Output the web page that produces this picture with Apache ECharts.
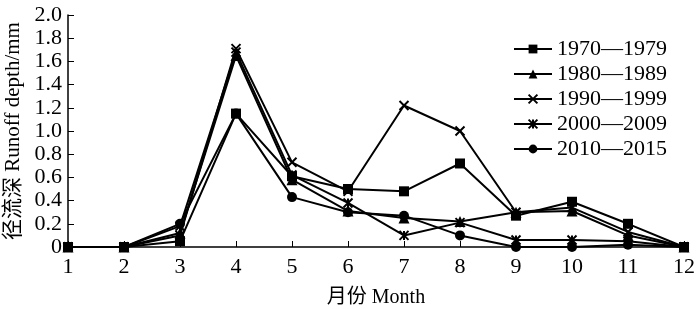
<!DOCTYPE html>
<html>
<head>
<meta charset="utf-8">
<script src="https://cdn.jsdelivr.net/npm/echarts@6/dist/echarts.min.js"></script>
<style>
  html, body { margin: 0; padding: 0; background: #fff; }
  #chart { width: 700px; height: 309px; }
</style>
</head>
<body>
<div id="chart"></div>
<script>
;(function() {
  var months = ['1','2','3','4','5','6','7','8','9','10','11','12'];
  var yTicks = [0, 0.2, 0.4, 0.6, 0.8, 1.0, 1.2, 1.4, 1.6, 1.8, 2.0];

  var names = ['1970\u20141979', '1980\u20141989', '1990\u20141999', '2000\u20142009', '2010\u20142015'];
  var d1970 = [0, 0, 0.05, 1.15, 0.61, 0.50, 0.48, 0.72, 0.27, 0.39, 0.20, 0];
  var d1980 = [0, 0, 0.12, 1.65, 0.58, 0.31, 0.25, 0.22, 0.30, 0.31, 0.10, 0];
  var d1990 = [0, 0, 0.10, 1.71, 0.73, 0.48, 1.22, 1.00, 0.30, 0.34, 0.13, 0];
  var d2000 = [0, 0, 0.18, 1.68, 0.62, 0.38, 0.10, 0.21, 0.06, 0.06, 0.05, 0];
  var d2010 = [0, 0, 0.20, 1.15, 0.43, 0.30, 0.27, 0.10, 0, 0, 0.02, 0];

  var font = '"Liberation Serif", "Noto Sans CJK SC", serif';
  var crossPath = 'path://M0,0L10,10M10,0L0,10';
  var starPath = 'path://M0,0L10,10M10,0L0,10M5,0L5,10';

  function makeSeries(name, data, symbol, size) {
    var stroke = symbol.indexOf('path://') === 0;
    return {
      name: name,
      type: 'line',
      data: data,
      symbol: symbol,
      symbolSize: size,
      showAllSymbol: true,
      lineStyle: { color: '#000', width: 2 },
      itemStyle: { color: '#000', borderColor: '#000', borderWidth: stroke ? 2 : 0 },
      emphasis: { disabled: true },
      animation: false
    };
  }

  var chart = echarts.init(document.getElementById('chart'));
  chart.setOption({
    backgroundColor: '#fff',
    textStyle: { fontFamily: font, color: '#000' },
    grid: { left: 68, right: 16, top: 15, bottom: 62, containLabel: false, outerBoundsMode: 'none' },
    legend: {
      orient: 'vertical',
      left: 508,
      top: 33,
      itemWidth: 38,
      itemHeight: 11,
      itemGap: 3,
      textStyle: { fontFamily: font, fontSize: 22, lineHeight: 20, color: '#000' },
      data: names
    },
    xAxis: {
      type: 'category',
      data: months,
      boundaryGap: false,
      name: '月份 Month',
      nameLocation: 'middle',
      nameGap: 41,
      nameTextStyle: { fontFamily: font, fontSize: 20, color: '#000' },
      axisLine: { lineStyle: { color: '#000', width: 1.5 } },
      axisTick: { inside: true, length: 6, lineStyle: { color: '#000' } },
      axisLabel: { fontFamily: font, fontSize: 22, color: '#000', margin: 9 },
      splitLine: { show: false }
    },
    yAxis: {
      type: 'value',
      min: yTicks[0],
      max: yTicks[yTicks.length - 1],
      interval: 0.2,
      name: '径流深 Runoff depth/mm',
      nameLocation: 'middle',
      nameGap: 42,
      nameTextStyle: { fontFamily: font, fontSize: 21, color: '#000' },
      axisLine: { show: true, lineStyle: { color: '#000', width: 1.5 } },
      axisTick: { show: true, inside: true, length: 6, lineStyle: { color: '#000' } },
      axisLabel: {
        fontFamily: font, fontSize: 22, color: '#000', margin: 6,
        formatter: function(v) { return v === 0 ? '0' : v.toFixed(1); }
      },
      splitLine: { show: false }
    },
    series: [
      makeSeries(names[0], d1970, 'rect', 10),
      makeSeries(names[1], d1980, 'triangle', 11),
      makeSeries(names[2], d1990, crossPath, 9),
      makeSeries(names[3], d2000, starPath, 9),
      makeSeries(names[4], d2010, 'circle', 10)
    ]
  });
})();
</script>
</body>
</html>
